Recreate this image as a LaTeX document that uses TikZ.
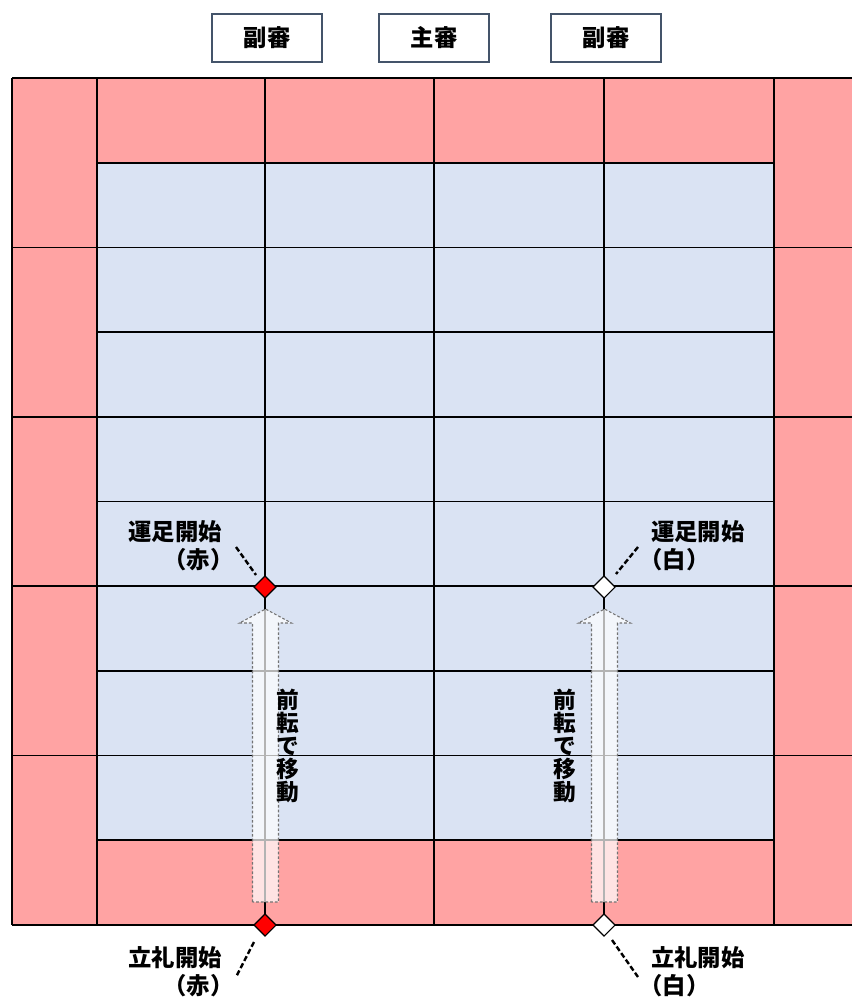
\documentclass[tikz,border=0pt]{standalone}
\usepackage{fontspec}
\newfontfamily\cjk{Noto Sans CJK JP}
\usetikzlibrary{shapes.geometric,calc}
\definecolor{pinkc}{RGB}{255,163,163}
\definecolor{bluec}{RGB}{218,227,243}
\definecolor{boxc}{RGB}{68,84,106}
\begin{document}
\begin{tikzpicture}[x=0.75pt,y=-0.75pt,
  gridline/.style={line width=1.3pt,black},
  judge/.style={draw=boxc,line width=1.5pt,fill=white,minimum width=82.5pt,minimum height=36pt,inner sep=0pt,
    font=\cjk\bfseries\fontsize{17.5}{18}\selectfont},
  lbl/.style={inner sep=0pt,font=\cjk\bfseries\fontsize{17.5}{21}\selectfont},
  vlbl/.style={inner sep=0pt,align=center,font=\cjk\bfseries\fontsize{17}{17.3}\selectfont},
  redmark/.style={diamond,draw=black,line width=0.9pt,fill=red,minimum width=17pt,minimum height=17pt,inner sep=0pt},
  whitemark/.style={diamond,draw=black,line width=0.9pt,fill=white,minimum width=17pt,minimum height=17pt,inner sep=0pt},
  leader/.style={black,line width=1.8pt,dash pattern=on 4pt off 2pt},
  movearrow/.style={draw=black!55,line width=0.8pt,dash pattern=on 2pt off 1.5pt,fill=white,fill opacity=0.7}
]
\useasboundingbox (0,0) rectangle (852,998);

% fields
\fill[pinkc] (12,78) rectangle (852,925);
\fill[bluec] (97,162.7) rectangle (774,840.3);

% grid lines
\draw[gridline] (12,78) -- (852,78);
\draw[gridline] (12,925) -- (852,925);
\draw[gridline] (12,78) -- (12,925);
\foreach \x in {97,265,434,604,774} \draw[gridline] (\x,78) -- (\x,925);
\foreach \k in {1,...,9} \draw[gridline] (97,78+84.7*\k) -- (774,78+84.7*\k);
\foreach \k in {2,4,6,8} {
  \draw[gridline] (12,78+84.7*\k) -- (97,78+84.7*\k);
  \draw[gridline] (774,78+84.7*\k) -- (852,78+84.7*\k);
}

% judges
\node[judge] (j1) at (267,38) {副審};
\node[judge] (j2) at (434,38) {主審};
\node[judge] (j3) at (606,38) {副審};

% movement arrows
\foreach \ax in {265.5,604.5} {
  \draw[movearrow] (\ax-13,902) -- (\ax-13,623) -- (\ax-26,623) -- (\ax,609)
     -- (\ax+26,623) -- (\ax+13,623) -- (\ax+13,902) -- cycle;
}

% marks
\node[redmark] (rs) at (265,587) {};
\node[whitemark] (ws) at (604,587) {};
\node[redmark] (rb) at (265,925) {};
\node[whitemark] (wb) at (604,925) {};

% labels
\node[lbl,align=right,anchor=east] (lrs) at (222,546) {運足開始\\（赤）\kern-0.5em};
\node[lbl,align=left,anchor=west] (lws) at (651,546) {運足開始\\\kern-0.5em（白）};
\node[lbl,align=right,anchor=east] (lrb) at (222,972) {立礼開始\\（赤）\kern-0.5em};
\node[lbl,align=left,anchor=west] (lwb) at (651,972) {立礼開始\\\kern-0.5em（白）};

\node[vlbl] (mr) at (288,746) {前\\転\\で\\移\\動};
\node[vlbl] (mw) at (565,746) {前\\転\\で\\移\\動};

% leaders
\coordinate (a1) at (236,547); \coordinate (b1) at (256,575);
\coordinate (a2) at (638,547); \coordinate (b2) at (616,574);
\coordinate (a3) at (254,942); \coordinate (b3) at (236,977);
\coordinate (a4) at (612,940); \coordinate (b4) at (638,977);
\draw[leader] (a1) -- (b1);
\draw[leader] (a2) -- (b2);
\draw[leader] (a3) -- (b3);
\draw[leader] (a4) -- (b4);
\end{tikzpicture}
\end{document}
